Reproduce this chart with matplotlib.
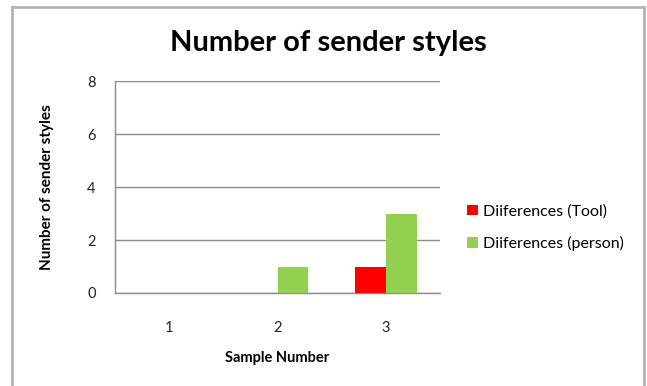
import matplotlib
matplotlib.use("Agg")
import matplotlib.pyplot as plt
import numpy as np
from matplotlib.patches import Rectangle

plt.rcParams['font.family'] = ['Lato', 'DejaVu Sans']

categories = ["1", "2", "3"]
tool_values = [0, 0, 1]
person_values = [0, 1, 3]
y_ticks = [0, 2, 4, 6, 8]
series_names = ["Diiferences (Tool)", "Diiferences (person)"]
colors = ["#ff0000", "#92d050"]

W, H = 647, 386
fig = plt.figure(figsize=(W / 100, H / 100), dpi=100)
fig.patch.set_facecolor("white")

# chart area frame
fig.add_artist(Rectangle((11.5 / W, -0.05), (644 - 11.5) / W, (386 - 8 + 20) / H,
                         transform=fig.transFigure, fill=False,
                         edgecolor="#b3b3b3", linewidth=2))

ax = fig.add_axes([115 / W, (H - 293) / H, 325 / W, 212 / H])
x = np.arange(1, len(categories) + 1)
w = 1 / 3.5
ax.bar(x - w / 2, tool_values, width=w, color=colors[0], label=series_names[0], zorder=3)
ax.bar(x + w / 2, person_values, width=w, color=colors[1], label=series_names[1], zorder=3)

ax.set_xlim(0.5, 3.5)
ax.set_ylim(0, 8)
ax.set_yticks(y_ticks)
ax.set_xticks(x)
ax.set_xticklabels(categories)
ax.yaxis.grid(True, color="#8c8c8c", linewidth=1)
ax.set_axisbelow(True)
for s in ["top", "right"]:
    ax.spines[s].set_visible(False)
for s in ["left", "bottom"]:
    ax.spines[s].set_color("#8c8c8c")
    ax.spines[s].set_linewidth(1)
ax.tick_params(axis="both", length=0, labelsize=10.5, colors="#222222")
ax.tick_params(axis="y", pad=14)
ax.tick_params(axis="x", pad=20)

ax.set_xlabel("Sample Number", fontsize=10.5, fontweight="bold", labelpad=12)
ax.set_ylabel("Number of sender styles", fontsize=11, fontweight="bold", labelpad=24)

fig.text(328 / W, 1 - 43 / H, "Number of sender styles", ha="center", va="center",
         fontsize=21, fontweight="bold")

fig.legend(loc="upper left", bbox_to_anchor=(453 / W, 1 - 190 / H), frameon=False,
           fontsize=11.5, handlelength=0.65, handleheight=0.65, handletextpad=0.35,
           labelspacing=1.1)

fig.savefig("out.png", dpi=100)
